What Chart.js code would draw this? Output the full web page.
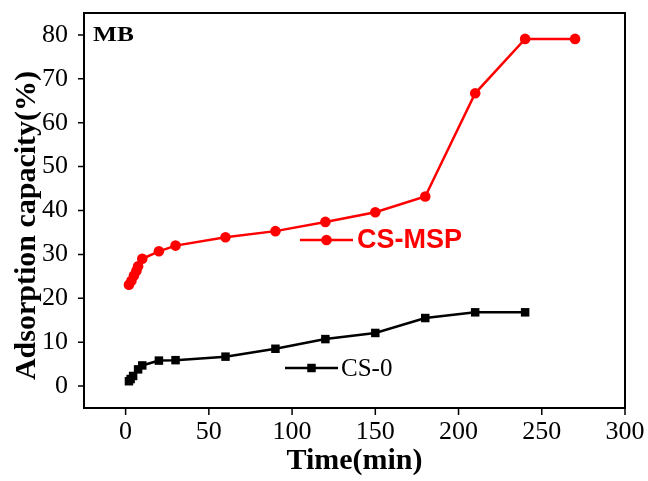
<!DOCTYPE html>
<html>
<head>
<meta charset="utf-8">
<script src="https://cdn.jsdelivr.net/npm/chart.js@4.4.1/dist/chart.umd.min.js"></script>
<style>
  html, body { margin: 0; padding: 0; background: #fff; }
  #wrap { width: 648px; height: 481px; }
</style>
</head>
<body>
<div id="wrap"><canvas id="kinChart" width="648" height="481"></canvas></div>
<script>
// time (min) and adsorption capacity (%)
const timeMSP = [2, 3.5, 5, 6.5, 7.5, 10, 20, 30, 60, 90, 120, 150, 180, 210, 240, 270];
const capMSP  = [23.1, 24.0, 25.2, 26.3, 27.3, 29.0, 30.7, 32.0, 33.9, 35.3, 37.4, 39.6, 43.2, 66.7, 79.1, 79.1];

const timeCS0 = [2, 3, 4.5, 7.5, 10, 20, 30, 60, 90, 120, 150, 180, 210, 240];
const capCS0  = [1.1, 1.6, 2.3, 3.8, 4.7, 5.8, 5.9, 6.7, 8.5, 10.7, 12.1, 15.5, 16.8, 16.8];

const xTickLabels = [0, 50, 100, 150, 200, 250, 300];
const yTickLabels = [0, 10, 20, 30, 40, 50, 60, 70, 80];

const serif = "'Liberation Serif', 'Times New Roman', serif";

const toPoints = (xs, ys) => xs.map((x, i) => ({ x: x, y: ys[i] }));

// frame, outward ticks (major + minor), panel label and in-plot legends
const framePlugin = {
    id: 'frame',
    afterDraw(chart) {
        const ctx = chart.ctx;
        const a = chart.chartArea;
        const xs = chart.scales.x, ys = chart.scales.y;
        ctx.save();
        ctx.strokeStyle = '#000';
        ctx.lineWidth = 2;
        ctx.strokeRect(a.left, a.top, a.right - a.left, a.bottom - a.top);

        ctx.lineWidth = 1.5;
        ctx.beginPath();
        xs.ticks.forEach(t => {
            const px = xs.getPixelForValue(t.value);
            const len = xTickLabels.includes(t.value) ? 7 : 4;
            ctx.moveTo(px, a.bottom);
            ctx.lineTo(px, a.bottom + len);
        });
        ys.ticks.forEach(t => {
            const py = ys.getPixelForValue(t.value);
            const len = yTickLabels.includes(t.value) ? 6 : 3;
            ctx.moveTo(a.left, py);
            ctx.lineTo(a.left - len, py);
        });
        ctx.stroke();

        // panel label (slightly stretched like the original figure)
        ctx.fillStyle = '#000';
        ctx.font = 'bold 22px ' + serif;
        ctx.textAlign = 'left';
        ctx.textBaseline = 'alphabetic';
        ctx.save();
        ctx.translate(a.left + 9, a.top + 28);
        ctx.scale(1.15, 1);
        ctx.fillText('MB', 0, 0);
        ctx.restore();

        // legends
        const drawEntry = (ds, x0, x1, y, text, font, gap) => {
            ctx.strokeStyle = ds.borderColor;
            ctx.lineWidth = ds.borderWidth;
            ctx.beginPath();
            ctx.moveTo(x0, y);
            ctx.lineTo(x1, y);
            ctx.stroke();
            ctx.fillStyle = ds.borderColor;
            const mx = (x0 + x1) / 2;
            if (ds.pointStyle === 'rect') {
                const s = ds.pointRadius / Math.SQRT2;
                ctx.fillRect(mx - s, y - s, 2 * s, 2 * s);
            } else {
                ctx.beginPath();
                ctx.arc(mx, y, ds.pointRadius, 0, Math.PI * 2);
                ctx.fill();
            }
            ctx.font = font;
            ctx.textBaseline = 'middle';
            ctx.fillText(text, x1 + gap, y + 1);
        };
        const d = chart.data.datasets;
        drawEntry(d[0], 300, 353, 240, d[0].label, "bold 27px 'Liberation Sans', Arial, sans-serif", 4);
        drawEntry(d[1], 285, 338, 368, d[1].label, '25px ' + serif, 3);
        ctx.restore();
    }
};

new Chart(document.getElementById('kinChart'), {
    type: 'line',
    data: {
        datasets: [
            {
                label: 'CS-MSP',
                data: toPoints(timeMSP, capMSP),
                borderColor: '#ff0000',
                backgroundColor: '#ff0000',
                borderWidth: 2.5,
                pointStyle: 'circle',
                pointRadius: 5.3,
                pointBorderWidth: 0,
                tension: 0
            },
            {
                label: 'CS-0',
                data: toPoints(timeCS0, capCS0),
                borderColor: '#000000',
                backgroundColor: '#000000',
                borderWidth: 2.5,
                pointStyle: 'rect',
                pointRadius: 6,
                pointBorderWidth: 0,
                tension: 0
            }
        ]
    },
    options: {
        responsive: false,
        animation: false,
        events: [],
        layout: { padding: { top: 13, right: 23, left: 0, bottom: 0 } },
        plugins: {
            legend: { display: false },
            tooltip: { enabled: false }
        },
        scales: {
            x: {
                type: 'linear',
                min: -25,
                max: 300,
                grid: { display: false },
                border: { display: false },
                ticks: {
                    stepSize: 25,
                    autoSkip: false,
                    maxRotation: 0,
                    padding: 1,
                    color: '#000',
                    font: { family: serif, size: 26 },
                    callback: v => xTickLabels.includes(v) ? String(v) : null
                },
                title: {
                    display: true,
                    text: 'Time(min)',
                    color: '#000',
                    font: { family: serif, size: 30, weight: 'bold' },
                    padding: { top: 0, bottom: 2 }
                },
                afterFit: s => { s.height = 73; s.paddingLeft = 0; s.paddingRight = 0; }
            },
            y: {
                min: -5,
                max: 85,
                grid: { display: false },
                border: { display: false },
                ticks: {
                    stepSize: 5,
                    autoSkip: false,
                    padding: 8,
                    color: '#000',
                    font: { family: serif, size: 26 },
                    callback: v => yTickLabels.includes(v) ? String(v) : null
                },
                title: {
                    display: true,
                    // trailing spaces push the centred title down, as in the original
                    text: 'Adsorption capacity(%)\u00a0\u00a0\u00a0\u00a0',
                    color: '#000',
                    font: { family: serif, size: 30, weight: 'bold' },
                    padding: { top: 9, bottom: 0 }
                },
                afterFit: s => { s.width = 84; s.paddingTop = 0; s.paddingBottom = 0; }
            }
        }
    },
    plugins: [framePlugin]
});
</script>
</body>
</html>
